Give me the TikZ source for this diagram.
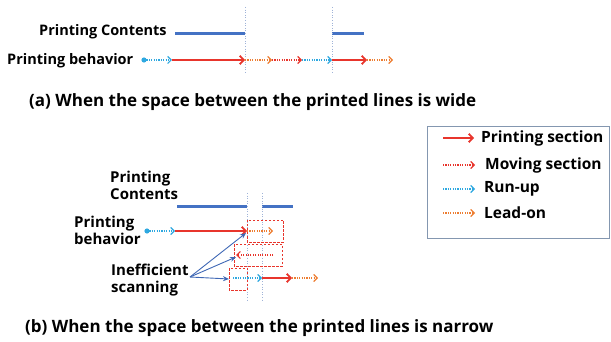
\documentclass[tikz,border=0pt]{standalone}
\usepackage{fontspec}
\setmainfont{Open Sans}
\usetikzlibrary{arrows.meta}
\definecolor{prred}{HTML}{E8352C}
\definecolor{lblue}{HTML}{2EA8E0}
\definecolor{orng}{HTML}{ED7D31}
\definecolor{dblue}{HTML}{4472C4}
\definecolor{vline}{HTML}{9FB3D8}
\definecolor{lgbord}{HTML}{8497B0}
\definecolor{ablue}{HTML}{3F68B5}
\tikzset{
  lbl/.style={font=\fontsize{14.5}{17}\selectfont\bfseries, inner sep=0pt, align=left},
  lblb/.style={font=\fontsize{15}{17}\selectfont\bfseries, inner sep=0pt, align=left, anchor=west},
  lgtext/.style={font=\fontsize{15.5}{17}\selectfont\bfseries, inner sep=0pt, anchor=west},
  captext/.style={font=\fontsize{17}{19}\selectfont\bfseries, inner sep=0pt, anchor=west},
  printsec/.style={draw=prred, line width=2pt, -{Straight Barb[length=4pt,width=8.5pt,line width=1.8pt]}},
  movesec/.style={draw=prred, line width=1.2pt, dash pattern=on 1.1pt off 1.3pt, -{Straight Barb[length=3.5pt,width=7pt,line width=1.2pt]}},
  runup/.style={draw=lblue, line width=1.2pt, dash pattern=on 1.1pt off 1.3pt, -{Straight Barb[length=3.5pt,width=7pt,line width=1.2pt]}},
  leadon/.style={draw=orng, line width=1.2pt, dash pattern=on 1.1pt off 1.3pt, -{Straight Barb[length=3.5pt,width=7pt,line width=1.2pt]}},
  content/.style={draw=dblue, line width=3pt},
  guide/.style={draw=vline, line width=0.6pt, dotted},
  ineff/.style={draw=prred, line width=0.8pt, dash pattern=on 2.5pt off 1.5pt},
  pointer/.style={draw=ablue, line width=0.9pt, -{Stealth[length=6pt,width=5pt]}},
}
\begin{document}
\begin{tikzpicture}[x=1pt,y=-1pt]
\useasboundingbox (0,0) rectangle (611,342);

% ---------- (a) ----------
\node[lbl, anchor=west] (pcA) at (39,32) {Printing Contents};
\node[lbl, anchor=west] (pbA) at (7,61) {Printing behavior};
\draw[content] (175,34) coordinate (ca1) -- (245,34) coordinate (ca2);
\draw[content] (332,34) coordinate (ca3) -- (364,34) coordinate (ca4);
\draw[guide] (245,7) coordinate (ga1) -- (245,73) coordinate (ga2);
\draw[guide] (332,7) coordinate (ga3) -- (332,73) coordinate (ga4);
\coordinate (a0) at (144,60);
\coordinate (a1) at (172,60);
\coordinate (a2) at (245,60);
\coordinate (a3) at (272,60);
\coordinate (a4) at (302,60);
\coordinate (a5) at (332,60);
\coordinate (a6) at (367,60);
\coordinate (a7) at (393,60);
\fill[lblue] (a0) circle (2.6pt);
\draw[runup] (a0) -- (a1);
\draw[printsec] (a1) -- (a2);
\draw[leadon] (a2) -- (a3);
\draw[movesec] (a3) -- (a4);
\draw[runup] (a4) -- (a5);
\draw[printsec] (a5) -- (a6);
\draw[leadon] (a6) -- (a7);
\node[captext] (capA) at (29,102) {(a) When the space between the printed lines is wide};

% ---------- legend ----------
\draw[lgbord, line width=1pt] (427,127) rectangle (609,238);
\coordinate (l1a) at (443,138); \coordinate (l1b) at (474,138);
\coordinate (l2a) at (443,165); \coordinate (l2b) at (475,165);
\coordinate (l3a) at (443,189); \coordinate (l3b) at (475,189);
\coordinate (l4a) at (443,213); \coordinate (l4b) at (475,213);
\draw[printsec] (l1a) -- (l1b);
\draw[movesec] (l2a) -- (l2b);
\draw[runup] (l3a) -- (l3b);
\draw[leadon] (l4a) -- (l4b);
\node[lgtext] (t1) at (481,138) {Printing section};
\node[lgtext] (t2) at (485,165) {Moving section};
\node[lgtext] (t3) at (484,189) {Run-up};
\node[lgtext] (t4) at (484,213) {Lead-on};

% ---------- (b) ----------
\node[lblb] (pcB) at (110,185.5) {Printing\\Contents};
\node[lblb] (pbB) at (74,230.5) {Printing\\behavior};
\node[lblb] (inB) at (111,280) {Inefficient\\scanning};
\draw[content] (177,207) coordinate (cb1) -- (247,207) coordinate (cb2);
\draw[content] (262,207) coordinate (cb3) -- (293,207) coordinate (cb4);
\draw[guide] (247,193) coordinate (gb1) -- (247,300) coordinate (gb2);
\draw[guide] (262,193) coordinate (gb3) -- (262,300) coordinate (gb4);
\coordinate (b0) at (147,231);
\coordinate (b1) at (175,231);
\coordinate (b2) at (247,231);
\coordinate (b3) at (273,231);
\fill[lblue] (b0) circle (2.6pt);
\draw[runup] (b0) -- (b1);
\draw[printsec] (b1) -- (b2);
\draw[leadon] (b2) -- (b3);
% inefficient boxes
\draw[ineff] (247,220) rectangle (283,242);
\draw[ineff] (234,244) rectangle (282,266);
\draw[ineff] (229,268) rectangle (247,290);
\coordinate (m0) at (273,255);
\coordinate (m1) at (236,255);
\draw[movesec] (m0) -- (m1);
\coordinate (c0) at (233,278);
\coordinate (c1) at (262,278);
\coordinate (c2) at (292,278);
\coordinate (c3) at (318,278);
\draw[runup] (c0) -- (c1);
\draw[printsec] (c1) -- (c2);
\draw[leadon] (c2) -- (c3);
% pointers
\coordinate (src) at (190,277);
\coordinate (tg1) at (246,233);
\coordinate (tg2) at (236,257);
\coordinate (tg3) at (229,279);
\draw[pointer] (src) -- (tg1);
\draw[pointer] (src) -- (tg2);
\draw[pointer] (src) -- (tg3);
\node[captext] (capB) at (25,328) {(b) When the space between the printed lines is narrow};
\end{tikzpicture}
\end{document}
